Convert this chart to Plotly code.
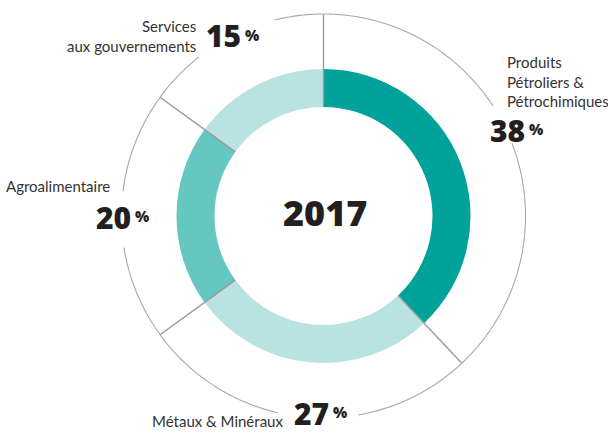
import numpy as np
import plotly.graph_objects as go

# Répartition du chiffre d'affaires par secteur
sectors = ["Produits Pétroliers & Pétrochimiques", "Métaux & Minéraux",
           "Agroalimentaire", "Services aux gouvernements"]
shares = [38, 27, 20, 15]
colors = ["#00A29A", "#B9E3E0", "#66C7C1", "#B9E3E0"]
year = "2017"

# Geometry (radial units == pixels)
R_IN, R_OUT, R_RING = 109, 147, 202
R_AXIS = 210
CX, CY = 323.5, 216          # centre in px from top-left
W, H = 608, 433

# angular spans of each sector, clockwise from the top
widths = [s * 3.6 for s in shares]
starts = np.concatenate([[0], np.cumsum(widths)[:-1]])
centers = starts + np.array(widths) / 2

fig = go.Figure()

fig.add_trace(go.Barpolar(
    theta=centers, width=widths, r=[R_OUT - R_IN] * len(shares), base=R_IN,
    marker=dict(color=colors, line=dict(width=0)),
    hoverinfo="skip", showlegend=False,
))

# radial separators between sectors
for b in starts:
    fig.add_trace(go.Scatterpolar(
        r=[R_IN, R_RING], theta=[b, b], mode="lines",
        line=dict(color="#9A9A9A", width=1.4),
        hoverinfo="skip", showlegend=False,
    ))

# outer thin ring, interrupted behind the labels
gaps = [(57, 69), (170, 193), (261, 277), (322, 346)]
ring_t, ring_r = [], []
edges = [0] + [v for g in gaps for v in g] + [360]
for a0, a1 in zip(edges[0::2], edges[1::2]):
    t = np.linspace(a0, a1, max(int(a1 - a0) * 2, 2))
    ring_t += list(t) + [None]
    ring_r += [R_RING] * len(t) + [None]
fig.add_trace(go.Scatterpolar(
    r=ring_r, theta=ring_t, mode="lines",
    line=dict(color="#A8A8A8", width=1.1),
    hoverinfo="skip", showlegend=False, connectgaps=False,
))

fig.update_layout(
    width=W, height=H,
    margin=dict(l=0, r=0, t=0, b=0),
    paper_bgcolor="white",
    polar=dict(
        domain=dict(x=[(CX - R_AXIS) / W, (CX + R_AXIS) / W],
                    y=[(H - CY - R_AXIS) / H, (H - CY + R_AXIS) / H]),
        bgcolor="rgba(0,0,0,0)",
        hole=0,
        radialaxis=dict(range=[0, R_AXIS], visible=False, showgrid=False),
        angularaxis=dict(visible=False, showgrid=False, rotation=90,
                         direction="clockwise"),
    ),
)

LABEL_FONT = dict(family="Lato, Open Sans, sans-serif", size=15, color="#333333")
NUM_FONT = dict(family="Open Sans, sans-serif", size=30, color="#231F20", weight=800)
PCT_FONT = dict(family="Open Sans, sans-serif", size=15, color="#231F20", weight=800)


def px(x, y):
    return x / W, 1 - y / H


def note(x, y, text, font, xanchor="left", yanchor="middle", align="left"):
    ax, ay = px(x, y)
    fig.add_annotation(x=ax, y=ay, xref="paper", yref="paper", text=text,
                       showarrow=False, font=font, xanchor=xanchor,
                       yanchor=yanchor, align=align, borderpad=0)


# sector names
note(197, 36, "Services<br>aux gouvernements", LABEL_FONT, "right", "middle", "right")
note(506, 81, "Produits<br>Pétroliers &<br>Pétrochimiques", LABEL_FONT, "left", "middle", "left")
note(111, 186, sectors[2], LABEL_FONT, "right")
note(284, 421, sectors[1], LABEL_FONT, "right")

# percentages: (x of number, y centre) per sector
num_pos = {0: (489, 130), 1: (293, 413), 2: (95, 217), 3: (205, 36)}
for i, (x, y) in num_pos.items():
    note(x, y, f"{shares[i]}", NUM_FONT, "left")
    digits = len(str(shares[i]))
    note(x + 17.6 * digits + 4, y - 1, "%", PCT_FONT, "left")

# centre year
note(CX + 1, CY - 4, f"{year}",
     dict(family="Open Sans, sans-serif", size=36, color="#231F20", weight=800), "center")

fig.write_html("out.html")
